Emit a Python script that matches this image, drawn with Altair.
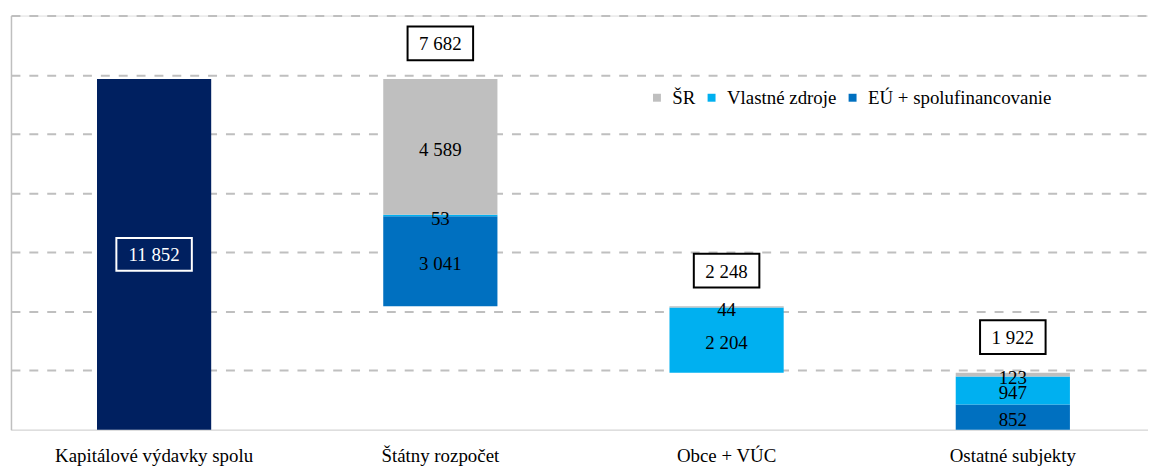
import altair as alt
import pandas as pd

categories = ["Kapitálové výdavky spolu", "Štátny rozpočet", "Obce + VÚC", "Ostatné subjekty"]
total_value = 11852
sub_totals = [7682, 2248, 1922]
series = ["ŠR", "Vlastné zdroje", "EÚ + spolufinancovanie"]
eu_values = [3041, 0, 852]
vz_values = [53, 2204, 947]
sr_values = [4589, 44, 123]
colors = ["#BFBFBF", "#00B0F0", "#0070C0"]

FONT = "'Liberation Serif', 'Times New Roman', Times, serif"


def fmt(v):
    return f"{v:,}".replace(",", " ")


# waterfall bases
seg_rows = []
box_rows = []
running = total_value
for i, cat in enumerate(categories[1:]):
    top = running
    base = running - sub_totals[i]
    running = base
    box_rows.append({"category": cat, "top": top, "label": fmt(sub_totals[i])})
    cur = base
    for name, vals in [("EÚ + spolufinancovanie", eu_values), ("Vlastné zdroje", vz_values), ("ŠR", sr_values)]:
        v = vals[i]
        if v <= 0:
            continue
        seg_rows.append({"category": cat, "series": name, "start": cur, "end": cur + v,
                         "mid": cur + v / 2, "label": fmt(v)})
        cur += v

seg_df = pd.DataFrame(seg_rows)
box_df = pd.DataFrame(box_rows)
tot_df = pd.DataFrame([{"category": categories[0], "start": 0, "end": total_value,
                        "mid": total_value / 2, "label": fmt(total_value)}])

x_enc = alt.X("category:N", sort=categories,
              scale=alt.Scale(domain=categories, range=[0, 1153], paddingInner=0, paddingOuter=0),
              axis=alt.Axis(title=None, labelAngle=0, ticks=False, domainColor="#D9D9D9", domainWidth=1,
                            labelFont=FONT, labelFontSize=19, labelColor="black", labelLimit=0,
                            labelPadding=17, grid=False))
y_scale = alt.Scale(domain=[0, 14000], nice=False, zero=True)
y_axis = alt.Axis(values=list(range(2000, 14001, 2000)), labels=False, ticks=False, title=None,
                  grid=True, gridDash=[9, 9], gridColor="#BFBFBF", gridWidth=2,
                  domain=True, domainColor="#BFBFBF", domainWidth=1.5)

total_bar = alt.Chart(tot_df).mark_bar(size=115, color="#002060").encode(
    x=x_enc,
    y=alt.Y("start:Q", scale=y_scale, axis=y_axis),
    y2="end:Q",
)

seg_bar = alt.Chart(seg_df).mark_bar(size=115).encode(
    x=alt.X("category:N", sort=categories),
    y=alt.Y("start:Q", scale=y_scale),
    y2="end:Q",
    color=alt.Color("series:N", scale=alt.Scale(domain=series, range=colors),
                    legend=alt.Legend(title=None, orient="none", legendX=641, legendY=73,
                                      direction="horizontal", symbolType="square", symbolSize=64,
                                      symbolStrokeWidth=0, labelFont=FONT,
                                      labelFontSize=19, labelColor="black", columnPadding=6,
                                      labelOffset=6, labelLimit=400)),
)

seg_text = alt.Chart(seg_df).mark_text(font=FONT, fontSize=19, color="black",
                                       baseline="middle", dy=3).encode(
    x=alt.X("category:N", sort=categories),
    y=alt.Y("mid:Q", scale=y_scale),
    text="label:N",
)

tot_box = alt.Chart(tot_df).mark_point(shape="M-1,-0.434L1,-0.434L1,0.434L-1,0.434Z", size=5776,
                                       filled=False, stroke="white", strokeWidth=2, opacity=1).encode(
    x=alt.X("category:N", sort=categories),
    y=alt.Y("mid:Q", scale=y_scale),
)

tot_text = alt.Chart(tot_df).mark_text(font=FONT, fontSize=19, color="white",
                                       baseline="middle", dy=1).encode(
    x=alt.X("category:N", sort=categories),
    y=alt.Y("mid:Q", scale=y_scale),
    text="label:N",
)

sub_box = alt.Chart(box_df).mark_point(shape="M-1,-0.515L1,-0.515L1,0.515L-1,0.515Z", size=4356,
                                       fill="white", stroke="black", strokeWidth=2, opacity=1,
                                       fillOpacity=1, yOffset=-36).encode(
    x=alt.X("category:N", sort=categories),
    y=alt.Y("top:Q", scale=y_scale),
)

sub_text = alt.Chart(box_df).mark_text(font=FONT, fontSize=19, color="black",
                                       baseline="middle", dy=-35).encode(
    x=alt.X("category:N", sort=categories),
    y=alt.Y("top:Q", scale=y_scale),
    text="label:N",
)

chart = alt.layer(total_bar, seg_bar, seg_text, tot_box, tot_text, sub_box, sub_text).properties(
    width=1145, height=417,
    autosize=alt.AutoSizeParams(type="none"),
    padding={"left": 3, "top": 6, "right": 0, "bottom": 37},
).configure_view(stroke=None).configure(font=FONT)

chart.save("out.html", embed_options={"renderer": "svg", "actions": False})
